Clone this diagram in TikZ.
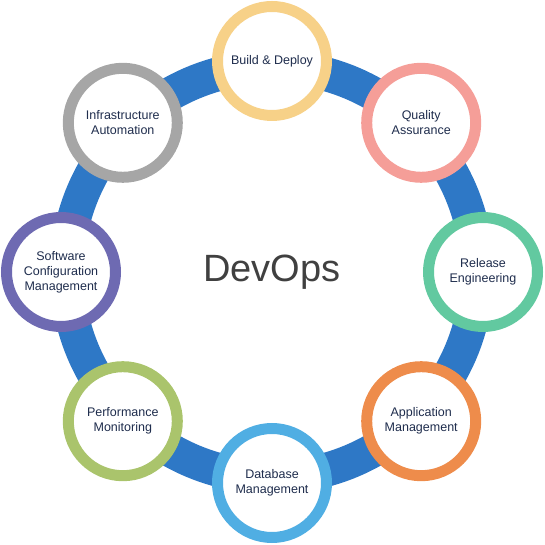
\documentclass[tikz,border=0pt]{standalone}
\usepackage{fontspec}
\setmainfont{Liberation Sans}
\usepackage{tikz}
\usepackage{xcolor}
\usetikzlibrary{positioning, calc}
\definecolor{cRing}   {HTML}{2E78C6}
\definecolor{cText}   {HTML}{1F2D4D}
\definecolor{cTitle}  {HTML}{404040}
\definecolor{cBuild}  {HTML}{F7D188}
\definecolor{cQuality}{HTML}{F59E98}
\definecolor{cRelease}{HTML}{62C9A0}
\definecolor{cApp}    {HTML}{EE8C4B}
\definecolor{cData}   {HTML}{50AEE3}
\definecolor{cPerf}   {HTML}{AAC46C}
\definecolor{cSoft}   {HTML}{6E6AB2}
\definecolor{cInfra}  {HTML}{A6A6A6}
\tikzset{
  stage/.style={circle, fill=white, line width=11pt, minimum size=109pt,
                inner sep=0pt, align=center, text=cText,
                font=\fontsize{12.5}{15}\selectfont},
}

\begin{document}
\begin{tikzpicture}[x=1pt, y=1pt]
        \useasboundingbox (0,0) rectangle (544,545);
        \coordinate (hub) at (272,273);
        % blue ring behind the stages
        \draw[cRing, line width=34pt] (hub) circle[radius=205pt];
        \node[text=cTitle, font=\fontsize{38}{40}\selectfont] (devops) at ($(hub)+(0,0)$) {DevOps};
        % eight stages round the ring
        \foreach \a/\n/\c/\t in {
            90/build/cBuild/Build \& Deploy,
            45/quality/cQuality/Quality\\Assurance,
            0/release/cRelease/Release\\Engineering,
            -45/app/cApp/Application\\Management,
            -90/data/cData/Database\\Management,
            -135/perf/cPerf/Performance\\Monitoring,
            180/soft/cSoft/Software\\Configuration\\Management,
            135/infra/cInfra/Infrastructure\\Automation}{
          \node[stage, draw=\c] (\n) at ($(hub)+(\a:211)$) {\t};
        }
      \end{tikzpicture}
\end{document}
